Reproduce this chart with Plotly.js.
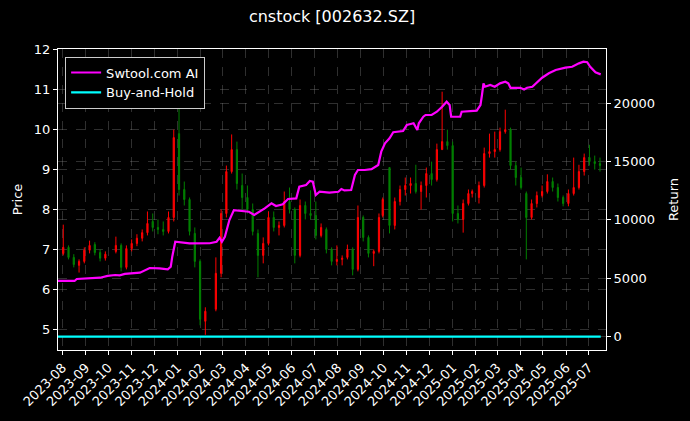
<!DOCTYPE html>
<html>
<head>
<meta charset="utf-8">
<script src="https://cdn.plot.ly/plotly-3.0.1.min.js"></script>
<style>html,body{margin:0;padding:0;background:#000;}#chart{width:690px;height:421px;}</style>
</head>
<body>
<div id="chart"></div>
<script>
// Weekly OHLC
const candleDates = ['2023-08-02','2023-08-09','2023-08-16','2023-08-23','2023-08-30','2023-09-06','2023-09-13','2023-09-20','2023-09-27',
'2023-10-11','2023-10-18','2023-10-25','2023-11-01','2023-11-08','2023-11-15','2023-11-22','2023-11-29','2023-12-06','2023-12-13','2023-12-20','2023-12-27',
'2024-01-03','2024-01-10','2024-01-17','2024-01-24','2024-01-31','2024-02-07','2024-02-21','2024-02-28','2024-03-06','2024-03-13','2024-03-20','2024-03-27',
'2024-04-03','2024-04-10','2024-04-17','2024-04-24','2024-05-01','2024-05-08','2024-05-15','2024-05-22','2024-05-29','2024-06-05','2024-06-12','2024-06-19','2024-06-26',
'2024-07-03','2024-07-10','2024-07-17','2024-07-24','2024-07-31','2024-08-07','2024-08-14','2024-08-21','2024-08-28','2024-09-04','2024-09-11','2024-09-18','2024-09-25','2024-09-30',
'2024-10-09','2024-10-16','2024-10-23','2024-10-30','2024-11-06','2024-11-13','2024-11-20','2024-11-27','2024-12-04','2024-12-11','2024-12-18','2024-12-25',
'2025-01-01','2025-01-08','2025-01-15','2025-01-22','2025-01-27','2025-02-05','2025-02-12','2025-02-19','2025-02-26','2025-03-05','2025-03-12','2025-03-19','2025-03-26',
'2025-04-02','2025-04-09','2025-04-16','2025-04-23','2025-04-30','2025-05-07','2025-05-14','2025-05-21','2025-05-28','2025-06-04','2025-06-11','2025-06-18','2025-06-25',
'2025-07-02','2025-07-09','2025-07-16'];
const openP  = [6.90,7.05,6.80,6.60,6.70,6.98,7.12,6.92,6.78, 6.95,7.10,6.55,7.02,7.15,7.28,7.42,7.70,7.55,7.50,7.45,7.80, 9.90,8.50,8.25,7.40,6.70,5.20,5.50,6.40,7.90,8.95,9.50,8.60, 8.30,8.00,7.40,6.85,7.15,7.80,7.55,7.60,8.20,8.00,6.85,8.10,7.90, 7.85,7.35,7.50,7.00,6.70,6.75,6.80,7.00,6.50,7.80,7.30,6.90,6.95,7.85, 9.05,7.60,8.20,8.50,8.60,8.65,8.45,8.60,8.90,8.75,9.50,9.70, 9.60,7.90,7.75,8.15,8.40,8.30,8.60,9.40,9.45,9.50,9.95,10.00,9.10, 8.80,8.40,7.80,8.15,8.35,8.45,8.70,8.55,8.30,8.15,8.40,8.55,8.95, 9.30,9.20,9.15];
const highP  = [7.62,7.10,6.88,6.75,7.05,7.22,7.18,7.00,6.95, 7.32,7.15,7.10,7.25,7.38,7.50,7.95,7.90,7.75,7.70,7.95,10.00, 10.90,8.70,8.30,7.55,6.75,5.55,6.80,8.00,9.10,9.88,9.70,8.90, 8.60,8.15,7.50,7.30,7.95,7.95,7.70,8.45,8.55,8.05,8.25,8.20,8.48, 8.20,7.65,7.55,7.05,7.10,6.85,7.12,7.05,8.10,7.85,7.35,7.00,7.90,8.30, 9.05,8.30,8.60,8.80,8.80,9.12,8.70,9.05,9.20,9.65,10.95,10.00, 9.70,8.10,8.25,8.50,8.50,8.70,9.55,9.90,9.95,10.05,10.50,10.05,9.20, 9.05,8.45,8.25,8.45,8.60,8.88,8.80,8.65,8.35,8.50,9.30,9.12,9.40, 9.62,9.35,9.30];
const lowP   = [6.85,6.75,6.55,6.42,6.65,6.90,6.85,6.70,6.72, 6.90,6.45,6.50,6.95,7.08,7.20,7.35,7.45,7.38,7.35,7.40,7.70, 8.35,8.10,7.35,6.55,5.10,4.86,5.45,6.30,7.80,8.90,8.50,8.00, 7.90,7.35,6.30,6.65,7.10,7.45,7.35,7.55,7.90,6.65,6.80,7.75,7.75, 7.25,7.30,6.90,6.60,6.60,6.60,6.75,6.35,6.45,7.20,6.80,6.58,6.90,7.80, 7.40,7.50,8.10,8.35,8.40,8.40,8.00,8.30,8.60,8.70,9.50,9.50, 7.70,7.65,7.42,8.10,8.30,8.15,8.55,9.30,9.30,9.45,9.90,9.00,8.60, 8.50,6.75,7.75,8.05,8.30,8.40,8.45,8.20,8.08,8.08,8.35,8.50,8.85, 9.10,9.00,8.95];
const closeP = [7.05,6.80,6.62,6.70,6.98,7.10,6.92,6.78,6.88, 7.10,6.55,7.02,7.15,7.28,7.42,7.65,7.55,7.50,7.45,7.80,9.80, 8.50,8.25,7.45,6.70,5.25,5.45,6.40,7.90,8.95,9.50,8.65,8.30, 8.00,7.45,6.85,7.15,7.80,7.55,7.60,8.20,8.00,6.85,8.10,7.90,7.85, 7.35,7.55,7.00,6.70,6.75,6.78,7.00,6.50,7.80,7.30,6.90,6.95,7.80,8.25, 7.60,8.20,8.50,8.60,8.65,8.45,8.60,8.90,8.75,9.50,9.70,9.60, 7.90,7.75,8.15,8.40,8.45,8.60,9.40,9.45,9.50,9.95,10.00,9.10,8.80, 8.55,7.80,8.15,8.35,8.45,8.70,8.55,8.30,8.15,8.40,8.55,8.95,9.30, 9.20,9.15,9.10];

// Strategy return (right axis)
const aiDates = ['2023-07-26','2023-08-17','2023-08-20','2023-08-30','2023-09-20','2023-09-30','2023-10-10','2023-10-16','2023-10-23','2023-11-12','2023-11-25','2023-12-08','2023-12-19','2023-12-23','2023-12-25','2023-12-29',
'2024-01-04','2024-01-17','2024-02-13','2024-02-22','2024-02-26','2024-02-29','2024-03-04','2024-03-10','2024-03-16','2024-04-05','2024-04-12','2024-04-19','2024-04-26','2024-05-05','2024-05-11','2024-05-20','2024-05-27',
'2024-06-07','2024-06-11','2024-06-20','2024-06-25','2024-06-29','2024-07-03','2024-07-08','2024-07-21','2024-08-02','2024-08-06','2024-08-10','2024-08-19','2024-08-24','2024-08-28','2024-09-06','2024-09-15','2024-09-24','2024-09-28',
'2024-10-03','2024-10-09','2024-10-14','2024-10-27','2024-11-01','2024-11-10','2024-11-15','2024-11-17','2024-11-23','2024-11-26','2024-12-04','2024-12-11','2024-12-18','2024-12-24','2024-12-28','2024-12-30',
'2025-01-11','2025-01-13','2025-02-02','2025-02-07','2025-02-09','2025-02-11','2025-02-13','2025-02-20','2025-02-26','2025-03-05','2025-03-12','2025-03-16','2025-03-19','2025-04-01','2025-04-06','2025-04-10','2025-04-17','2025-04-24','2025-04-30',
'2025-05-09','2025-05-18','2025-05-31','2025-06-09','2025-06-18','2025-06-24','2025-06-29','2025-07-03','2025-07-10','2025-07-17'];
const aiReturn = [4770,4770,4940,4965,5050,5200,5280,5250,5370,5480,5880,5850,5770,5990,6850,8130,
8100,7990,8000,8130,8475,8130,8560,9990,10840,10700,10420,10700,10990,11420,11190,11330,11790,
11840,12840,12990,13330,13270,12130,12410,12330,12410,12640,12520,12560,13840,14270,14270,14350,14700,15840,
16560,16980,17500,17610,18120,18270,17690,18270,18830,18980,18980,19260,19690,20120,19830,18830,
18830,19260,19350,19830,20690,21690,21400,21550,21400,21690,21830,21690,21310,21310,21170,21310,21400,21780,22170,
22550,22830,23030,23110,23400,23540,23500,23110,22630,22460];

// Buy-and-Hold return (flat at ~0 on this scale)
const bhDates = ['2023-07-26','2024-07-01','2025-07-17'];
const bhReturn = [0,0,0];

const monthTicks = ['2023-08-01','2023-09-01','2023-10-01','2023-11-01','2023-12-01','2024-01-01','2024-02-01','2024-03-01','2024-04-01','2024-05-01','2024-06-01','2024-07-01',
'2024-08-01','2024-09-01','2024-10-01','2024-11-01','2024-12-01','2025-01-01','2025-02-01','2025-03-01','2025-04-01','2025-05-01','2025-06-01','2025-07-01'];
const monthLabels = ['2023-08','2023-09','2023-10','2023-11','2023-12','2024-01','2024-02','2024-03','2024-04','2024-05','2024-06','2024-07',
'2024-08','2024-09','2024-10','2024-11','2024-12','2025-01','2025-02','2025-03','2025-04','2025-05','2025-06','2025-07'];
const priceTicks = [5,6,7,8,9,10,11,12];
const returnTicks = [0,5000,10000,15000,20000];
const returnLabels = ['0','5000','10000','15000','20000'];

const FONT = 'DejaVu Sans, sans-serif';
const gridColor = 'rgba(140,140,140,0.42)';

const traces = [
  {type:'candlestick', x:candleDates, open:openP, high:highP, low:lowP, close:closeP,
   xaxis:'x', yaxis:'y', showlegend:false, hoverinfo:'skip',
   increasing:{line:{color:'#ff0000', width:1}, fillcolor:'#ff0000'},
   decreasing:{line:{color:'#008000', width:1}, fillcolor:'#008000'},
   whiskerwidth:0},
  {type:'scatter', mode:'lines', name:'Swtool.com AI', x:aiDates, y:aiReturn, yaxis:'y2',
   line:{color:'#ff00ff', width:2.2}},
  {type:'scatter', mode:'lines', name:'Buy-and-Hold', x:bhDates, y:bhReturn, yaxis:'y2',
   line:{color:'#00ffff', width:2.2}}
];

const layout = {
  width:690, height:421,
  paper_bgcolor:'#000', plot_bgcolor:'#000',
  margin:{l:58, r:84, t:49, b:71, pad:0},
  font:{family:FONT, color:'#fff', size:13},
  title:{text:'cnstock [002632.SZ]', font:{family:FONT, size:16, color:'#fff'}, x:0.5, xref:'paper', y:0.96, yanchor:'middle'},
  showlegend:true,
  boxgap:0.55,
  legend:{x:0.013, y:0.975, xanchor:'left', yanchor:'top', bgcolor:'#000', bordercolor:'#cccccc', borderwidth:1,
          font:{family:FONT, size:13, color:'#fff'}, tracegroupgap:2},
  xaxis:{type:'date', range:['2023-07-26','2025-07-24'], rangeslider:{visible:false},
         tickmode:'array', tickvals:monthTicks, ticktext:monthLabels, tickangle:-45,
         ticks:'outside', ticklen:4, tickcolor:'#fff', tickfont:{family:FONT, size:13, color:'#fff'},
         showline:true, linecolor:'#fff', linewidth:1, mirror:true,
         showgrid:true, gridcolor:gridColor, griddash:'dash', gridwidth:0.8, zeroline:false},
  yaxis:{range:[4.48,12.02], tickmode:'array', tickvals:priceTicks, ticks:'outside', ticklen:4, tickcolor:'#fff',
         tickfont:{family:FONT, size:13, color:'#fff'},
         title:{text:'Price', font:{family:FONT, size:13, color:'#fff'}, standoff:8},
         showline:true, linecolor:'#fff', linewidth:1, mirror:true,
         showgrid:true, gridcolor:gridColor, griddash:'dash', gridwidth:0.8, zeroline:false},
  yaxis2:{overlaying:'y', side:'right', range:[-1140,24630], tickmode:'array', tickvals:returnTicks, ticktext:returnLabels,
          ticks:'outside', ticklen:4, tickcolor:'#fff',
          tickfont:{family:FONT, size:13, color:'#fff'},
          title:{text:'Return', font:{family:FONT, size:13, color:'#fff'}, standoff:14},
          showline:true, linecolor:'#fff', linewidth:1,
          showgrid:true, gridcolor:gridColor, griddash:'dash', gridwidth:0.8, zeroline:false}
};

Plotly.newPlot('chart', traces, layout, {staticPlot:true, displayModeBar:false});
</script>
</body>
</html>
